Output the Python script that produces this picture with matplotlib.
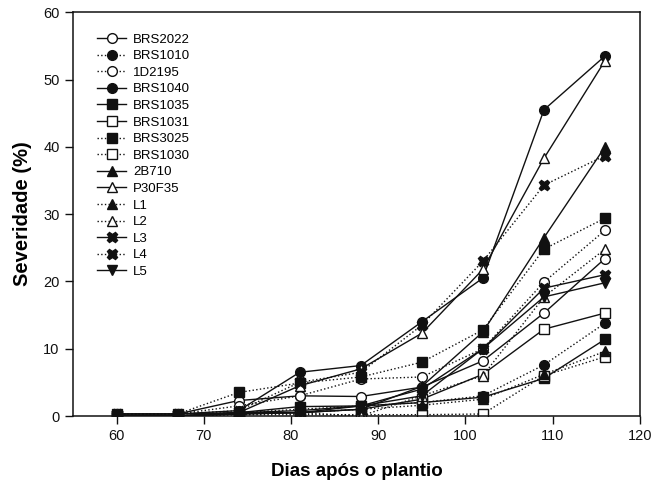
import matplotlib
matplotlib.use("Agg")
import matplotlib.pyplot as plt

plt.rcParams['font.family'] = ['Liberation Sans', 'DejaVu Sans']

days = [60, 67, 74, 81, 88, 95, 102, 109, 116]

names = ["BRS2022", "BRS1010", "1D2195", "BRS1040", "BRS1035", "BRS1031",
         "BRS3025", "BRS1030", "2B710", "P30F35", "L1", "L2", "L3", "L4", "L5"]

BRS2022 = [0.3, 0.3, 2.3, 3.0, 2.9, 4.3, 8.2, 15.3, 23.4]
BRS1010 = [0.3, 0.3, 0.5, 1.0, 1.5, 2.0, 3.0, 7.6, 13.8]
D2195 = [0.3, 0.3, 1.5, 3.0, 5.5, 5.8, 10.0, 19.9, 27.6]
BRS1040 = [0.3, 0.3, 0.8, 6.5, 7.5, 14.0, 20.5, 45.5, 53.5]
BRS1035 = [0.0, 0.0, 0.5, 1.4, 1.5, 2.0, 2.8, 5.6, 11.4]
BRS1031 = [0.0, 0.0, 0.3, 0.5, 1.0, 2.5, 6.2, 12.9, 15.3]
BRS3025 = [0.3, 0.3, 3.5, 4.9, 5.8, 8.0, 12.8, 24.8, 29.4]
BRS1030 = [0.0, 0.0, 0.2, 0.2, 0.2, 0.2, 0.3, 6.0, 8.8]
B2B710 = [0.0, 0.0, 0.3, 0.5, 1.0, 4.4, 12.5, 26.5, 40.0]
P30F35 = [0.3, 0.3, 0.5, 4.5, 7.0, 12.3, 21.8, 38.3, 52.8]
L1 = [0.0, 0.0, 0.3, 0.5, 1.0, 1.6, 2.5, 6.2, 9.6]
L2 = [0.0, 0.0, 0.3, 0.5, 0.0, 3.0, 6.0, 17.7, 24.8]
L3 = [0.0, 0.0, 0.5, 0.8, 1.5, 4.0, 10.0, 19.0, 21.0]
L4 = [0.3, 0.3, 0.8, 5.0, 6.5, 13.5, 23.0, 34.3, 38.7]
L5 = [0.0, 0.0, 0.5, 0.5, 1.5, 3.0, 10.0, 17.7, 19.8]

series = [BRS2022, BRS1010, D2195, BRS1040, BRS1035, BRS1031, BRS3025, BRS1030,
          B2B710, P30F35, L1, L2, L3, L4, L5]

# (marker, filled, linestyle)
styles = [("o", False, "-"), ("o", True, ":"), ("o", False, ":"), ("o", True, "-"),
          ("s", True, "-"), ("s", False, "-"), ("s", True, ":"), ("s", False, ":"),
          ("^", True, "-"), ("^", False, "-"), ("^", True, ":"), ("^", False, ":"),
          ("X", True, "-"), ("X", True, ":"), ("v", True, "-")]

col = "#111111"
fig = plt.figure(figsize=(6.51, 4.88), dpi=100)
ax = fig.add_axes([0.112, 0.1475, 0.871, 0.8275])

for name, vals, (m, filled, ls) in zip(names, series, styles):
    ax.plot(days, vals, linestyle=ls, color=col, linewidth=1.0,
            marker=m, markersize=7 if m != "X" else 7.5,
            markerfacecolor=col if filled else "white",
            markeredgecolor=col, markeredgewidth=1.0, label=name)

ax.set_xlim(55, 120)
ax.set_ylim(0, 60)
ax.set_xticks([60, 70, 80, 90, 100, 110, 120])
ax.set_yticks([0, 10, 20, 30, 40, 50, 60])
ax.tick_params(direction="out", length=6, width=1, labelsize=10.5, colors=col)
for s in ax.spines.values():
    s.set_linewidth(1.1)
    s.set_color(col)

ax.set_xlabel("Dias após o plantio", fontsize=13.5, fontweight="bold", labelpad=14)
ax.set_ylabel("Severidade (%)", fontsize=14.5, fontweight="bold", labelpad=8)

ax.legend(loc="upper left", frameon=False, fontsize=9.5, handlelength=2.2,
          labelspacing=0.33, borderaxespad=0.6, handletextpad=0.5,
          bbox_to_anchor=(0.02, 0.98))

fig.savefig("out.png", dpi=100)
